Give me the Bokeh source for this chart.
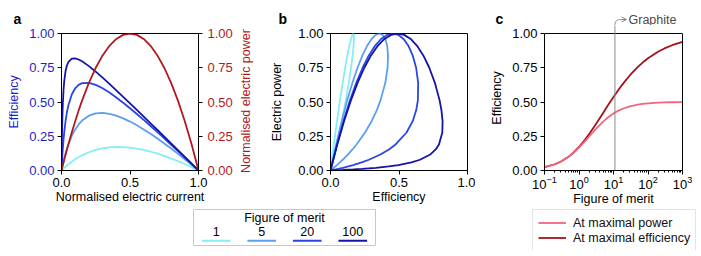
import math
from bokeh.plotting import figure
from bokeh.models import (Range1d, LinearAxis, FactorRange, ColumnDataSource, Label,
                          Legend, LegendItem, Span, Arrow, OpenHead, NumeralTickFormatter,
                          FixedTicker, Spacer)
from bokeh.core.properties import value
from bokeh.layouts import row, column
from bokeh.embed import file_html
from bokeh.resources import INLINE

FONT = "Liberation Sans"
FS = "12.5px"      # axis titles, legends
TFS = "13px"       # tick labels

# ---------------- data ----------------
current = [0, 0.001, 0.002, 0.003, 0.005, 0.0075, 0.01, 0.015, 0.02, 0.03, 0.04, 0.05,
           0.075, 0.1, 0.125, 0.15, 0.2, 0.25, 0.3, 0.35, 0.4, 0.45, 0.5, 0.55, 0.6,
           0.65, 0.7, 0.75, 0.8, 0.85, 0.9, 0.95, 1.0]
eff_z1 = [0, 0.001, 0.002, 0.003, 0.005, 0.0074, 0.0098, 0.0146, 0.0192, 0.0283, 0.0369,
          0.0452, 0.0645, 0.0818, 0.0972, 0.1109, 0.1333, 0.15, 0.1615, 0.1685, 0.1714,
          0.1707, 0.1667, 0.1597, 0.15, 0.1379, 0.1235, 0.1071, 0.0889, 0.0689, 0.0474,
          0.0244, 0]
eff_z5 = [0, 0.005, 0.0099, 0.0147, 0.0243, 0.0359, 0.0471, 0.0687, 0.0891, 0.1265, 0.16,
          0.19, 0.2523, 0.3, 0.3365, 0.3643, 0.4, 0.4167, 0.42, 0.4136, 0.4, 0.3808,
          0.3571, 0.33, 0.3, 0.2676, 0.2333, 0.1974, 0.16, 0.1214, 0.0818, 0.0413, 0]
eff_z20 = [0, 0.0196, 0.0384, 0.0564, 0.0905, 0.1295, 0.165, 0.2273, 0.28, 0.3638, 0.4267,
           0.475, 0.555, 0.6, 0.625, 0.6375, 0.64, 0.625, 0.6, 0.5688, 0.5333, 0.495,
           0.4545, 0.4125, 0.3692, 0.325, 0.28, 0.2344, 0.1882, 0.1417, 0.0947, 0.0475, 0]
eff_z100 = [0, 0.0908, 0.1663, 0.2301, 0.3317, 0.4254, 0.495, 0.591, 0.6533, 0.7275, 0.768,
            0.7917, 0.8162, 0.8182, 0.8102, 0.7969, 0.7619, 0.7212, 0.6774, 0.6319, 0.5854,
            0.538, 0.4902, 0.442, 0.3934, 0.3447, 0.2958, 0.2467, 0.1975, 0.1483, 0.0989,
            0.0495, 0]
power = [0, 0.004, 0.008, 0.012, 0.0199, 0.0298, 0.0396, 0.0591, 0.0784, 0.1164, 0.1536,
         0.19, 0.2775, 0.36, 0.4375, 0.51, 0.64, 0.75, 0.84, 0.91, 0.96, 0.99, 1.0, 0.99,
         0.96, 0.91, 0.84, 0.75, 0.64, 0.51, 0.36, 0.19, 0]

merit_labels = ["1", "5", "20", "100"]
merit_colors = ["#86eef4", "#5c9ff0", "#2946e4", "#1414a8"]
eff_series = [eff_z1, eff_z5, eff_z20, eff_z100]
power_color = "#b01a1e"

fom = [0.1, 0.2, 0.3, 0.5, 0.7, 1, 1.5, 2, 3, 5, 7, 10, 15, 20, 30, 50, 70, 100, 200, 300,
       500, 1000]
eff_at_max_power = [0.0238, 0.0455, 0.0652, 0.1, 0.1296, 0.1667, 0.2143, 0.25, 0.3, 0.3571,
                    0.3889, 0.4167, 0.4412, 0.4545, 0.4688, 0.4808, 0.4861, 0.4902, 0.495,
                    0.4967, 0.498, 0.499]
eff_at_max_eff = [0.0238, 0.0456, 0.0655, 0.101, 0.1319, 0.1716, 0.2252, 0.268, 0.3333,
                  0.4202, 0.4776, 0.5367, 0.6, 0.6417, 0.6955, 0.7543, 0.7878, 0.819,
                  0.8682, 0.891, 0.9145, 0.9387]
graphite_fom = 11
c_labels = ["At maximal power", "At maximal efficiency"]
c_colors = ["#f2657e", "#a3121c"]

BLUE_TXT = "#1f1fc8"
GREY = "#8c8c8c"

# ---------------- layout constants (pixels) ----------------
STRIP_H = 25            # strip with the panel letters
TOP_B = 8               # border above the frames (frames start at page y 33)
FRAME_H = 137
BOT_B = 38
MAIN_H = TOP_B + FRAME_H + BOT_B
A_W, RED_W, B_W = 236, 18, 221
C_LEFT, C_FRAME_W, C_RIGHT = 69, 138, 11
C_PAGE0 = A_W + RED_W + B_W            # page x where the panel c column starts
C_X0 = C_PAGE0 + C_LEFT                # page x of panel c's frame left edge
C_W = C_LEFT + C_FRAME_W + C_RIGHT


def style_axis(ax, color="black", tick_std=3, lab_std=5):
    ax.axis_label_text_font = FONT
    ax.axis_label_text_font_size = FS
    ax.axis_label_text_font_style = "normal"
    ax.axis_label_text_color = color
    ax.major_label_text_font = FONT
    ax.major_label_text_font_size = TFS
    ax.major_label_text_color = color
    ax.axis_line_color = "black"
    ax.major_tick_line_color = "black"
    ax.major_tick_out = 4
    ax.major_tick_in = 0
    ax.minor_tick_line_color = None
    ax.major_label_standoff = tick_std
    ax.axis_label_standoff = lab_std


def base_fig(**kw):
    p = figure(toolbar_location=None, output_backend="svg", **kw)
    p.xgrid.grid_line_color = None
    p.ygrid.grid_line_color = None
    p.outline_line_color = "black"
    p.outline_line_width = 1
    p.background_fill_color = "white"
    p.border_fill_color = "white"
    return p


def bare_fig(**kw):
    p = figure(toolbar_location=None, output_backend="svg", min_border=0, **kw)
    p.axis.visible = False
    p.xgrid.grid_line_color = None
    p.ygrid.grid_line_color = None
    p.outline_line_color = None
    return p


# ---------------- panel a ----------------
pa = base_fig(width=A_W, height=MAIN_H, x_range=Range1d(0, 1),
              y_range=Range1d(0, 1), min_border_left=61, min_border_right=A_W - 61 - 137,
              min_border_top=TOP_B, min_border_bottom=BOT_B,
              x_axis_label="Normalised electric current", y_axis_label="Efficiency")
pa.extra_y_ranges = {"power": Range1d(0, 1)}
ax_r = LinearAxis(y_range_name="power")
pa.add_layout(ax_r, "right")
pa.xaxis.ticker = FixedTicker(ticks=[0, 0.5, 1])
pa.xaxis.formatter = NumeralTickFormatter(format="0.0")
for ax in pa.yaxis:
    ax.ticker = FixedTicker(ticks=[0, 0.25, 0.5, 0.75, 1])
    ax.formatter = NumeralTickFormatter(format="0.00")
style_axis(pa.xaxis[0], tick_std=3, lab_std=0)
style_axis(pa.yaxis[0], color=BLUE_TXT)
style_axis(ax_r, color=power_color, tick_std=5)
for eff, col in zip(eff_series, merit_colors):
    pa.line(current, eff, line_color=col, line_width=1.8)
pa.line(current, power, line_color=power_color, line_width=1.8, y_range_name="power")

# ---------------- title of panel a's right axis (reads bottom-to-top) ----------------
pr = bare_fig(width=RED_W, height=MAIN_H, x_range=Range1d(0, 1), y_range=Range1d(0, 1))
label_mid = TOP_B + FRAME_H / 2 - 1
pr.text(x=[0.5], y=[1 - label_mid / MAIN_H], text=["Normalised electric power"],
        angle=math.pi / 2, text_align="center", text_baseline="middle",
        text_font=value(FONT), text_font_size=FS, text_color=power_color)

# ---------------- panel b ----------------
pb = base_fig(width=B_W, height=MAIN_H, x_range=Range1d(0, 1),
              y_range=Range1d(0, 1), min_border_left=B_W - 137 - 8, min_border_right=8,
              min_border_top=TOP_B, min_border_bottom=BOT_B,
              x_axis_label="Efficiency", y_axis_label="Electric power")
pb.xaxis.ticker = FixedTicker(ticks=[0, 0.5, 1])
pb.xaxis.formatter = NumeralTickFormatter(format="0.0")
pb.yaxis.ticker = FixedTicker(ticks=[0, 0.25, 0.5, 0.75, 1])
pb.yaxis.formatter = NumeralTickFormatter(format="0.00")
style_axis(pb.xaxis[0], tick_std=3, lab_std=0)
style_axis(pb.yaxis[0], lab_std=11)
for eff, col in zip(eff_series, merit_colors):
    pb.line(eff, power, line_color=col, line_width=1.8)

# ---------------- strip with the letters a and b ----------------
sab = bare_fig(width=A_W + RED_W + B_W, height=STRIP_H,
               x_range=Range1d(0, A_W + RED_W + B_W), y_range=Range1d(0, STRIP_H))
sab.text(x=[13, 278], y=[STRIP_H - 18, STRIP_H - 18], text=["a", "b"],
         text_font=value(FONT), text_font_size="14px", text_font_style="bold",
         text_baseline="alphabetic", text_align="left", text_color="black")

# ---------------- legend for a/b ----------------
lsrc = ColumnDataSource(dict(z=merit_labels, col=merit_colors))
pl = figure(width=184, height=38, x_range=FactorRange(factors=merit_labels),
            y_range=Range1d(0, 1), toolbar_location=None, output_backend="svg",
            min_border=1)
pl.axis.visible = False
pl.xgrid.grid_line_color = None
pl.ygrid.grid_line_color = None
pl.outline_line_color = "#c8c8c8"
pl.outline_line_width = 1
pl.text(x="z", y=0.40, text="z", source=lsrc, text_align="center",
        text_baseline="middle", text_font=value(FONT), text_font_size="12.5px",
        text_color="black")
pl.rect(x="z", y=0.13, width=0.63, height=2, height_units="screen", source=lsrc,
        fill_color="col", line_color=None)
pl.add_layout(Label(x=2, y=0.77, text="Figure of merit", text_font=FONT,
                    text_font_size="12.5px", text_align="center",
                    text_baseline="middle", text_color="black"))

# ---------------- panel c (frame reaches up to the strip so the marker is continuous) ----
c_frame_h = TOP_B + FRAME_H
pc = base_fig(width=C_W, height=c_frame_h + BOT_B,
              x_axis_type="log", x_range=Range1d(0.1, 1000),
              y_range=Range1d(0, c_frame_h / FRAME_H), min_border_left=C_LEFT,
              min_border_right=C_RIGHT, min_border_top=0, min_border_bottom=BOT_B,
              x_axis_label="Figure of merit", y_axis_label="Efficiency")
pc.outline_line_color = None
pc.yaxis.ticker = FixedTicker(ticks=[0, 0.25, 0.5, 0.75, 1])
pc.yaxis.formatter = NumeralTickFormatter(format="0.00")
pc.yaxis.bounds = (0, 1)
style_axis(pc.xaxis[0], tick_std=1, lab_std=0)
style_axis(pc.yaxis[0])
pc.xaxis.minor_tick_line_color = "black"
pc.xaxis.minor_tick_out = 2
pc.xaxis.minor_tick_in = 0
ax_cr = LinearAxis(bounds=(0, 1), ticker=FixedTicker(ticks=[]))
ax_cr.axis_line_color = "black"
ax_cr.major_tick_line_color = None
ax_cr.minor_tick_line_color = None
pc.add_layout(ax_cr, "right")
pc.add_layout(Span(location=1, dimension="width", line_color="black", line_width=1))
pc.add_layout(Span(location=graphite_fom, dimension="height", line_color=GREY,
                   line_width=1))
pc.line(fom, eff_at_max_eff, line_color=c_colors[1], line_width=1.8)
pc.line(fom, eff_at_max_power, line_color=c_colors[0], line_width=1.8)

# ---------------- legend for c (its lines sit outside the visible range) ----------------
plc = bare_fig(width=166, height=42, x_range=Range1d(-2, -1), y_range=Range1d(0, 1))
lr_pow = plc.line(fom, eff_at_max_power, line_color=c_colors[0], line_width=1.8)
lr_eff = plc.line(fom, eff_at_max_eff, line_color=c_colors[1], line_width=1.8)
legc = Legend(items=[LegendItem(label=c_labels[0], renderers=[lr_pow]),
                     LegendItem(label=c_labels[1], renderers=[lr_eff])],
              location="top_left", orientation="vertical")
legc.label_text_font = FONT
legc.label_text_font_size = FS
legc.label_text_color = "#111111"
legc.border_line_color = "#c8c8c8"
legc.border_line_width = 1
legc.background_fill_color = "white"
legc.background_fill_alpha = 1
legc.glyph_width = 28
legc.glyph_height = 15
legc.label_height = 15
legc.label_standoff = 7
legc.padding = 5
legc.spacing = 0
legc.margin = 1
plc.add_layout(legc)

# ---------------- strip above panel c: letter c and the Graphite marker ----------------
dec_per_px = 4 / C_FRAME_W   # panel c spans four decades over its frame


def page_x(px):
    """x data value over page pixel px, on panel c's log scale."""
    return 0.1 * 10 ** ((px - C_X0) * dec_per_px)


def page_y(py):
    return STRIP_H - py


sc = bare_fig(width=C_W, height=STRIP_H, x_axis_type="log",
              x_range=Range1d(page_x(C_PAGE0), page_x(C_PAGE0 + C_W)),
              y_range=Range1d(0, STRIP_H))
sc.text(x=[page_x(495)], y=[page_y(18)], text=["c"], text_font=value(FONT),
        text_font_size="14px", text_font_style="bold", text_baseline="alphabetic",
        text_align="left", text_color="black")
sc.bezier(x0=[graphite_fom], y0=[0], x1=[page_x(621)], y1=[page_y(19)],
          cx0=[graphite_fom], cy0=[page_y(20.5)], cx1=[page_x(616)], cy1=[page_y(19)],
          line_color=GREY, line_width=1)
sc.add_layout(Arrow(x_start=page_x(620), y_start=page_y(19), x_end=page_x(626),
                    y_end=page_y(19),
                    end=OpenHead(size=5, line_color=GREY, line_width=1),
                    line_color=GREY, line_width=1))
sc.text(x=[page_x(628)], y=[page_y(19)], text=["Graphite"], text_font=value(FONT),
        text_font_size="12.5px", text_baseline="middle", text_align="left",
        text_color="#4a4a4a")

left_block = column(sab, row(pa, column(pr), pb), row(Spacer(width=192, height=38), pl))
right_block = column(row(sc), pc, row(Spacer(width=531 - C_PAGE0, height=42), plc))
layout = row(left_block, right_block)

open("out.html", "w").write(file_html(layout, INLINE))
